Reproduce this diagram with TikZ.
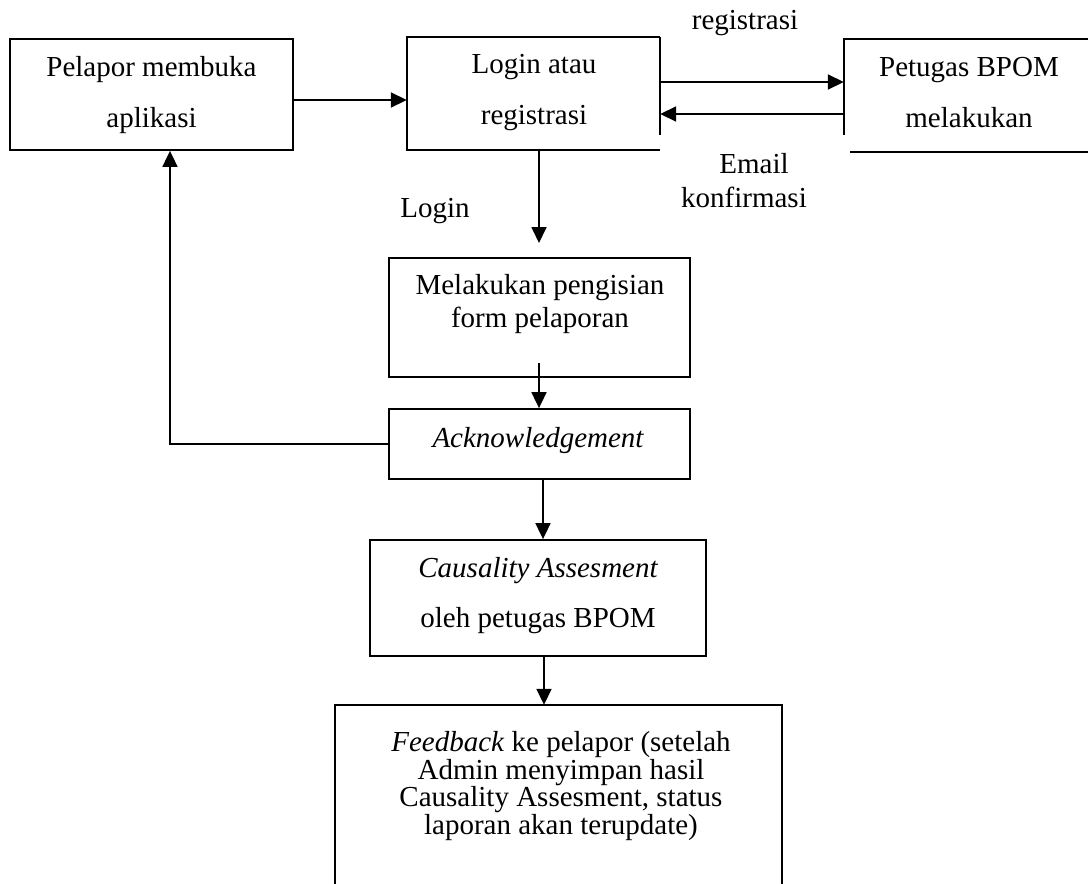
\documentclass[tikz,border=0pt]{standalone}
\usepackage{fontspec}
\setmainfont{Liberation Serif}
\usetikzlibrary{arrows.meta}
\begin{document}
\begin{tikzpicture}[x=1pt,y=-1pt,
  box/.style={draw, line width=1.8pt, inner sep=0pt, rectangle},
  frame/.style={draw=none, inner sep=0pt, rectangle},
  edge/.style={line width=1.8pt},
  txt/.style={inner sep=0pt, align=center, font=\fontsize{29}{34}\selectfont},
  wide/.style={font=\fontsize{29}{51}\selectfont},
  arr/.style={line width=1.8pt, -{Triangle[length=16pt,width=15pt]}}]
\useasboundingbox (0,0) rectangle (1088,884);

% boxes
\node[box, minimum width=283pt, minimum height=111pt] (pel) at (151.5,94.5) {};
\node[txt, wide] (pelt) at (151.5,95) {Pelapor membuka\\aplikasi};

\node[frame, minimum width=253pt, minimum height=113pt] (login) at (533.5,93.5) {};
\draw[edge] (login.north east) -- (login.north west) -- (login.south west) -- (login.south east);
\draw[edge] (login.north east) -- (login.east |- 0,135);
\node[txt, wide] (logint) at (534,93) {Login atau\\registrasi};

\node[frame, minimum width=256pt, minimum height=113pt] (pet) at (972,95.5) {};
\draw[edge] (pet.north west -| 1088,0) -- (pet.north west) -- (pet.west |- 0,135);
\draw[edge] (pet.south west -| 850,0) -- (pet.south west -| 1088,0);
\node[txt, wide] (pett) at (969,93) {Petugas BPOM\\melakukan};

\node[box, minimum width=301pt, minimum height=119pt] (mel) at (539.5,317.5) {};
\node[txt, font=\fontsize{29}{33}\selectfont] (melt) at (540,304) {Melakukan pengisian\\form pelaporan};

\node[box, minimum width=301pt, minimum height=70pt] (ack) at (539.5,444) {};
\node[txt] (ackt) at (538,441) {\itshape Acknowledgement};

\node[box, minimum width=336pt, minimum height=116pt] (caus) at (538,598) {};
\node[txt, font=\fontsize{29}{50}\selectfont] (caust) at (538,596) {\itshape Causality Assesment\\oleh petugas BPOM};

\node[frame, minimum width=447pt, minimum height=190pt] (feed) at (558.5,800) {};
\draw[edge] (feed.south west) -- (feed.north west) -- (feed.north east) -- (feed.south east);
\node[txt, font=\fontsize{29}{27.5}\selectfont] (feedt) at (561,786) {\textit{Feedback} ke pelapor (setelah\\Admin menyimpan hasil\\Causality Assesment, status\\laporan akan terupdate)};

% labels
\node[txt] (lreg) at (745,23) {registrasi};
\node[txt] (lemail) at (744,181) {\hspace*{20pt}Email\\konfirmasi};
\node[txt] (llogin) at (435,211) {Login};

% connectors
\coordinate (loginend) at (539,243);
\coordinate (melout) at (539,363);
\coordinate (corner) at (170,444);
\draw[arr] (pel.east |- 0,100) -- (login.west |- 0,100);
\draw[arr] (login.east |- 0,82) -- (pet.west |- 0,82);
\draw[arr] (pet.west |- 0,114) -- (login.east |- 0,114);
\draw[arr] (login.south -| loginend) -- (loginend);
\draw[arr] (melout) -- (ack.north -| melout);
\draw[arr] (ack.south -| 543,0) -- (caus.north -| 543,0);
\draw[arr] (caus.south -| 544,0) -- (feed.north -| 544,0);
\draw[arr] (corner) -- (pel.south -| corner);
\draw[line width=2.8pt] (ack.west) -- ([xshift=-0.9pt]corner);
\end{tikzpicture}
\end{document}
